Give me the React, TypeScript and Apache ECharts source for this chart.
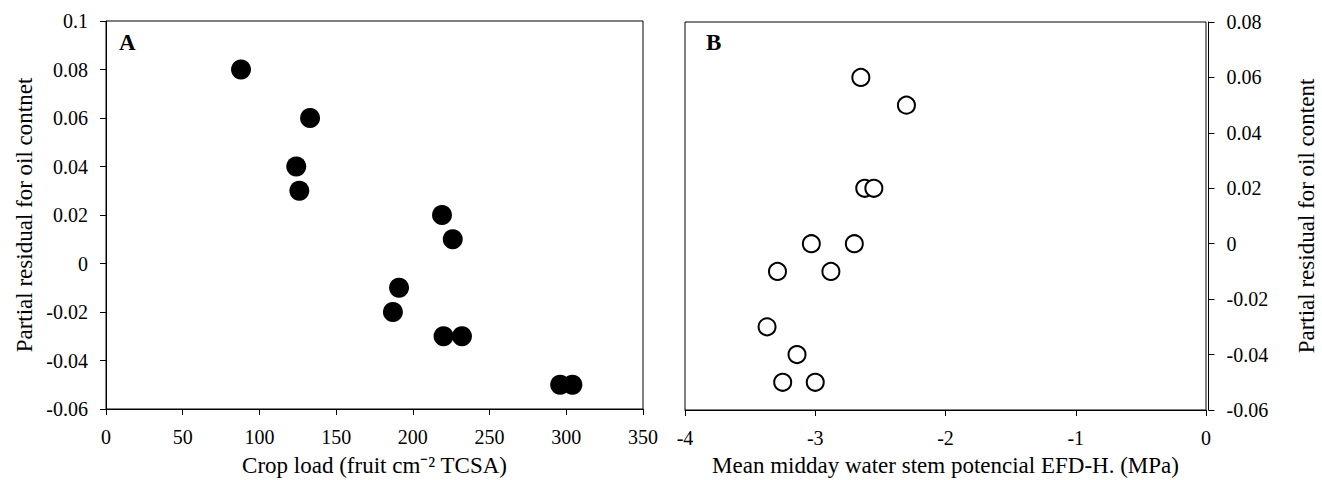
import React, { useEffect, useRef } from "react";
import * as echarts from "echarts";

const cropLoad = [88, 133, 124, 126, 219, 226, 191, 187, 220, 232, 296, 304];
const residualA = [0.08, 0.06, 0.04, 0.03, 0.02, 0.01, -0.01, -0.02, -0.03, -0.03, -0.05, -0.05];

const waterPotential = [-2.65, -2.3, -2.62, -2.55, -3.03, -2.7, -3.29, -2.88, -3.37, -3.14, -3.25, -3.0];
const residualB = [0.06, 0.05, 0.02, 0.02, 0, 0, -0.01, -0.01, -0.03, -0.04, -0.05, -0.05];

const titleA = "Crop load (fruit cm\u207B\u00B2 TCSA)";
const titleYA = "Partial residual for oil contnet";
const titleB = "Mean midday water stem potencial EFD-H. (MPa)";
const titleYB = "Partial residual for oil content";

const FONT = '"Liberation Serif", "Times New Roman", serif';

export default function App() {
  const ref = useRef<HTMLDivElement>(null);
  useEffect(() => {
    if (!ref.current) return;
    const chart = echarts.init(ref.current, undefined, { renderer: "svg" });
    const axisCommon = {
      axisLine: { show: true, onZero: false, lineStyle: { color: "#000", width: 1 } },
      axisTick: { show: true, inside: false, length: 6, lineStyle: { color: "#000", width: 1 } },
      splitLine: { show: false },
      nameLocation: "middle" as const,
      nameTextStyle: { fontSize: 23, fontFamily: FONT, color: "#000" },
    };
    const labelStyle = { fontSize: 20, fontFamily: FONT, color: "#000" };
    const fmt = (v: number) => String(Math.round(v * 100) / 100);
    chart.setOption({
      animation: false,
      backgroundColor: "#fff",
      grid: [
        { left: 106, top: 21, width: 537, height: 388, show: true, borderColor: "#000", borderWidth: 1, backgroundColor: "transparent", containLabel: false, outerBoundsMode: "none" },
        { left: 685, top: 22, width: 521, height: 388, show: true, borderColor: "#000", borderWidth: 1, backgroundColor: "transparent", containLabel: false, outerBoundsMode: "none" },
      ],
      xAxis: [
        {
          ...axisCommon,
          type: "value",
          gridIndex: 0,
          min: 0,
          max: 350,
          interval: 50,
          axisLabel: { ...labelStyle, margin: 18 },
          name: titleA,
          nameGap: 45,
        },
        {
          ...axisCommon,
          type: "value",
          gridIndex: 1,
          min: -4,
          max: 0,
          interval: 1,
          axisLabel: { ...labelStyle, margin: 18 },
          name: titleB,
          nameGap: 44,
        },
      ],
      yAxis: [
        {
          ...axisCommon,
          type: "value",
          gridIndex: 0,
          min: -0.06,
          max: 0.1,
          interval: 0.02,
          axisLabel: { ...labelStyle, margin: 18, formatter: fmt },
          name: titleYA,
          nameRotate: 90,
          nameGap: 70,
        },
        {
          ...axisCommon,
          type: "value",
          gridIndex: 1,
          position: "right",
          offset: 2.5,
          min: -0.06,
          max: 0.08,
          interval: 0.02,
          axisLabel: { ...labelStyle, margin: 18, formatter: fmt },
          name: titleYB,
          nameRotate: 90,
          nameGap: 86,
        },
      ],
      series: [
        {
          type: "scatter",
          xAxisIndex: 0,
          yAxisIndex: 0,
          symbol: "circle",
          symbolSize: 20,
          itemStyle: { color: "#000", opacity: 1 },
          data: cropLoad.map((x, i) => [x, residualA[i]]),
        },
        {
          type: "scatter",
          xAxisIndex: 1,
          yAxisIndex: 1,
          symbol: "circle",
          symbolSize: 17,
          itemStyle: { color: "#fff", borderColor: "#000", borderWidth: 2, opacity: 1 },
          data: waterPotential.map((x, i) => [x, residualB[i]]),
        },
      ],
      graphic: [
        { type: "text", left: 119, top: 31, style: { text: "A", font: `bold 23px ${FONT}`, fill: "#000" } },
        { type: "text", left: 706, top: 31, style: { text: "B", font: `bold 23px ${FONT}`, fill: "#000" } },
      ],
    });
    return () => chart.dispose();
  }, []);
  return (
    <div
      ref={ref}
      style={{ position: "fixed", left: 0, top: 0, width: 1322, height: 480, background: "#fff" }}
    />
  );
}
